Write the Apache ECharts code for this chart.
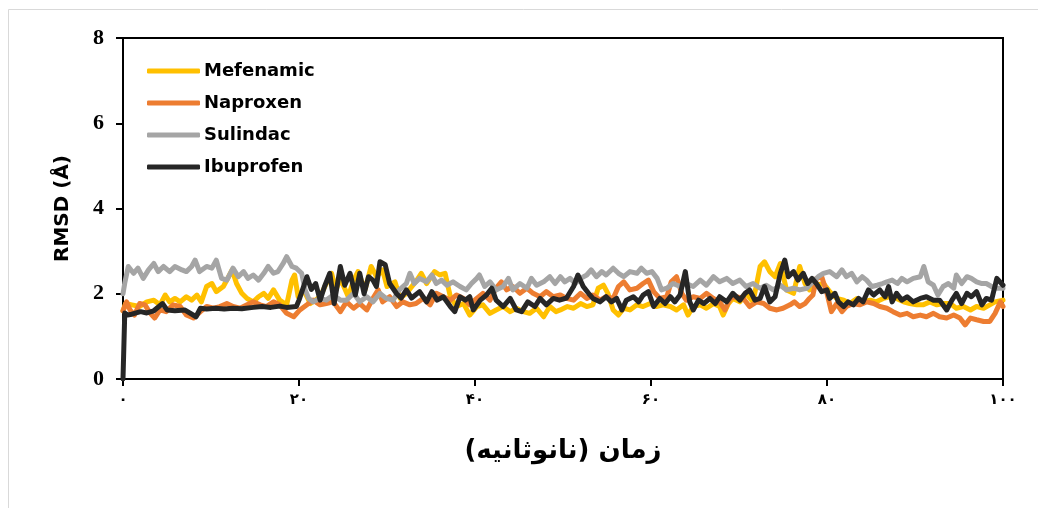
<!DOCTYPE html>
<html><head><meta charset="utf-8">
<script src="https://cdn.jsdelivr.net/npm/echarts@6/dist/echarts.min.js"></script>
<style>html,body{margin:0;padding:0;background:#fff}#c{width:1038px;height:508px}</style>
</head><body><div id="c"></div>
<script>
const SERIES_NAMES = ['Mefenamic','Naproxen','Sulindac','Ibuprofen'];
const X_TICK_LABELS = ['۰','۲۰','۴۰','۶۰','۸۰','۱۰۰'];
const Y_TICK_LABELS = ['0','2','4','6','8'];
const X_TITLE = '\u200Fزمان (نانوثانیه)\u200F';
const Y_TITLE = 'RMSD (Å)';

const MEFENAMIC = [[0,1.6],[0.3,1.77],[1,1.74],[1.9,1.7],[2.7,1.81],[3.5,1.85],[4.2,1.74],[4.8,1.97],[5.3,1.81],[5.9,1.89],[6.5,1.81],[7.2,1.93],[7.8,1.85],[8.4,1.97],[8.9,1.81],[9.5,2.17],[10.1,2.24],[10.6,2.05],[11.4,2.17],[12,2.4],[12.4,2.56],[12.9,2.24],[13.5,2.01],[14.1,1.89],[14.8,1.81],[15.4,1.93],[16,2.01],[16.5,1.89],[17.1,2.09],[17.8,1.85],[18.6,1.74],[19.2,2.32],[19.5,2.44],[19.9,1.93],[20.5,2.09],[21.3,1.77],[22.4,1.93],[23.1,2.24],[23.7,2.48],[24.2,2.09],[24.7,2.36],[25.6,1.93],[26.2,2.32],[26.7,2.52],[27.5,2.09],[28.2,2.64],[28.8,2.4],[29.5,2.56],[30,2.17],[30.9,2.28],[31.5,1.89],[32.2,2.01],[33.4,2.32],[33.9,2.48],[34.5,2.24],[35.4,2.52],[36,2.44],[36.6,2.48],[37.2,1.93],[37.9,1.7],[38.7,1.77],[39.4,1.5],[40.2,1.7],[40.9,1.74],[41.7,1.54],[42.4,1.62],[43.2,1.7],[44,1.58],[44.7,1.66],[45.5,1.58],[46.2,1.54],[47,1.66],[47.8,1.46],[48.5,1.7],[49.2,1.58],[49.7,1.62],[50.5,1.7],[51.2,1.66],[52,1.77],[52.7,1.7],[53.4,1.74],[54,2.13],[54.6,2.2],[55.1,2.01],[55.7,1.62],[56.3,1.5],[56.9,1.66],[57.6,1.62],[58.4,1.74],[59.1,1.7],[59.9,1.77],[60.6,1.7],[61.4,1.74],[62.2,1.7],[62.9,1.62],[63.7,1.74],[64.2,1.5],[64.8,1.7],[65.6,1.74],[66.3,1.66],[67.1,1.77],[67.8,1.7],[68.2,1.5],[68.8,1.77],[69.3,1.89],[70.1,1.81],[70.8,2.01],[71.6,1.81],[72.4,2.64],[72.9,2.75],[73.5,2.52],[74.1,2.4],[74.7,2.71],[75.4,2.09],[76.2,2.01],[76.9,2.64],[77.5,2.24],[78,2.09],[78.8,2.2],[79.6,2.24],[80.3,2.05],[81.1,1.89],[81.9,1.85],[82.6,1.77],[83.4,1.89],[84.1,1.81],[84.9,1.85],[85.6,1.81],[86.4,1.89],[87.1,1.93],[87.9,1.89],[88.7,1.81],[89.4,1.77],[90.2,1.74],[90.9,1.74],[91.7,1.81],[92.5,1.74],[93.2,1.77],[94,1.77],[94.7,1.66],[95.5,1.7],[96.3,1.62],[97,1.7],[97.8,1.66],[98.5,1.74],[99.1,1.81],[100,1.85]];

const NAPROXEN = [[0,1.6],[0.4,1.81],[0.8,1.62],[1.3,1.5],[1.9,1.77],[2.5,1.74],[3.1,1.54],[3.6,1.43],[4.2,1.62],[4.9,1.58],[5.7,1.74],[6.5,1.7],[7.2,1.5],[8,1.43],[8.8,1.58],[9.5,1.7],[10.3,1.66],[11,1.7],[11.8,1.77],[12.5,1.7],[13.3,1.66],[14.1,1.74],[14.8,1.81],[15.6,1.74],[16.3,1.7],[17.1,1.81],[17.8,1.74],[18.6,1.54],[19.4,1.46],[20.1,1.62],[20.9,1.74],[21.6,1.85],[22.4,1.74],[23.1,1.77],[23.9,1.81],[24.7,1.58],[25.4,1.81],[26.2,1.66],[26.9,1.77],[27.7,1.62],[28.4,1.89],[29,2.09],[29.5,1.81],[30.3,1.93],[31.1,1.7],[31.8,1.81],[32.6,1.74],[33.3,1.77],[34.1,1.89],[34.9,1.74],[35.6,2.01],[36.4,1.93],[37.2,1.85],[37.9,1.97],[38.7,1.89],[39.4,1.74],[40.2,1.89],[40.9,2.01],[41.7,1.85],[42.4,2.13],[43,2.28],[43.6,2.09],[44.3,2.17],[45.1,2.01],[45.9,2.13],[46.6,2.01],[47.4,1.93],[48.1,2.05],[48.9,1.93],[49.7,1.97],[50.4,1.89],[51.2,1.85],[52,2.01],[52.7,1.89],[53.4,1.97],[54.2,1.85],[54.9,1.93],[55.7,1.89],[56.3,2.17],[56.9,2.28],[57.6,2.09],[58.4,2.13],[59.1,2.24],[59.7,2.32],[60.3,2.05],[61,1.89],[61.8,1.93],[62.3,2.28],[62.9,2.4],[63.5,2.01],[64,1.85],[64.8,1.93],[65.6,1.89],[66.3,2.01],[67.1,1.89],[67.8,1.81],[68.4,1.62],[69,1.89],[69.7,1.93],[70.5,1.89],[71.2,1.7],[72,1.81],[72.8,1.77],[73.5,1.66],[74.3,1.62],[75,1.66],[75.8,1.74],[76.3,1.81],[76.9,1.7],[77.5,1.77],[78,1.89],[78.4,1.97],[78.8,2.36],[79.4,2.4],[80,2.01],[80.5,1.58],[81.1,1.77],[81.7,1.58],[82.2,1.7],[83,1.77],[83.7,1.74],[84.5,1.81],[85.3,1.77],[86,1.7],[86.8,1.66],[87.5,1.58],[88.3,1.5],[89.1,1.54],[89.8,1.46],[90.6,1.5],[91.3,1.46],[92.1,1.54],[92.8,1.46],[93.6,1.43],[94.4,1.5],[95.1,1.43],[95.7,1.27],[96.3,1.43],[97,1.39],[97.8,1.35],[98.5,1.35],[99.1,1.54],[99.7,1.81],[100,1.7]];

const SULINDAC = [[0,2.0],[0.2,2.25],[0.6,2.64],[1.2,2.48],[1.7,2.6],[2.3,2.36],[2.9,2.56],[3.5,2.71],[4,2.52],[4.6,2.64],[5.3,2.52],[5.9,2.64],[6.7,2.56],[7.2,2.52],[7.8,2.64],[8.2,2.79],[8.7,2.52],[9.5,2.64],[10.1,2.6],[10.6,2.79],[11.2,2.36],[11.8,2.32],[12.5,2.6],[13.1,2.4],[13.7,2.52],[14.2,2.36],[14.8,2.44],[15.4,2.32],[16,2.48],[16.5,2.64],[17.1,2.48],[17.6,2.52],[18.2,2.71],[18.6,2.87],[19.2,2.64],[19.7,2.6],[20.3,2.48],[20.7,2.09],[21.1,1.89],[21.6,1.81],[22.4,1.89],[23.1,1.85],[23.9,1.97],[24.7,1.85],[25.4,1.85],[26.2,2.01],[26.9,1.81],[27.7,1.93],[28.4,1.81],[29.2,2.01],[29.9,1.89],[30.7,1.85],[31.4,2.09],[32.2,2.24],[32.6,2.48],[33.1,2.24],[33.7,2.36],[34.5,2.28],[35.1,2.44],[35.6,2.24],[36.2,2.32],[36.8,2.2],[37.5,2.28],[38.3,2.17],[39,2.09],[39.6,2.24],[40.2,2.36],[40.5,2.44],[41.1,2.17],[41.7,2.28],[42.4,2.09],[43.2,2.17],[43.8,2.36],[44.3,2.09],[45.1,2.24],[45.9,2.13],[46.4,2.36],[47,2.2],[47.8,2.28],[48.5,2.4],[49.1,2.24],[49.7,2.4],[50.2,2.28],[50.8,2.36],[51.4,2.24],[52,2.36],[52.7,2.44],[53.2,2.56],[53.8,2.4],[54.4,2.52],[54.9,2.44],[55.7,2.6],[56.3,2.48],[56.9,2.4],[57.6,2.52],[58.4,2.48],[58.9,2.6],[59.5,2.48],[60.1,2.52],[60.7,2.36],[61.2,2.09],[61.8,2.13],[62.5,2.24],[63.3,2.17],[64,2.24],[64.8,2.17],[65.6,2.32],[66.3,2.2],[67.1,2.4],[67.8,2.28],[68.6,2.36],[69.3,2.24],[70.1,2.32],[70.8,2.17],[71.6,2.24],[72.4,2.13],[73.1,2.2],[73.9,2.09],[74.7,2.2],[75.4,2.09],[76.2,2.13],[76.9,2.09],[77.7,2.13],[78.4,2.28],[79,2.4],[79.6,2.48],[80.3,2.52],[81.1,2.4],[81.7,2.56],[82.2,2.4],[82.8,2.48],[83.4,2.28],[84,2.4],[84.5,2.32],[85.1,2.17],[85.7,2.2],[86.3,2.24],[86.8,2.28],[87.4,2.32],[88,2.24],[88.5,2.36],[89.1,2.28],[89.8,2.36],[90.6,2.4],[91,2.64],[91.5,2.28],[92.1,2.2],[92.6,1.97],[93.2,2.17],[93.8,2.24],[94.4,2.13],[94.7,2.44],[95.3,2.24],[95.9,2.4],[96.4,2.36],[97,2.28],[97.6,2.24],[98.1,2.24],[98.7,2.17],[99.3,2.13],[100,2.13]];

const IBUPROFEN = [[0,0],[0.2,1.55],[0.5,1.5],[1,1.52],[1.5,1.55],[2,1.58],[2.7,1.55],[3.5,1.6],[4.5,1.77],[5,1.62],[5.9,1.6],[7,1.62],[8.3,1.46],[8.8,1.66],[9.5,1.64],[10.5,1.66],[11.5,1.64],[12.5,1.66],[13.5,1.65],[14.8,1.68],[15.8,1.7],[16.8,1.68],[17.8,1.71],[18.6,1.68],[19.7,1.7],[20,1.85],[20.9,2.4],[21.4,2.1],[21.9,2.24],[22.4,1.85],[22.9,2.17],[23.5,2.48],[24,1.77],[24.7,2.64],[25.2,2.2],[25.8,2.48],[26.4,1.97],[26.9,2.48],[27.4,2.0],[27.9,2.4],[28.4,2.32],[28.8,2.17],[29.2,2.75],[29.8,2.68],[30.3,2.24],[31.1,2.0],[31.6,1.9],[32.2,2.09],[32.8,1.9],[33.7,2.05],[34.5,1.81],[35.1,2.05],[35.7,1.85],[36.4,1.93],[37.2,1.7],[37.7,1.58],[38.3,1.93],[38.9,1.85],[39.4,1.93],[39.8,1.62],[40.6,1.85],[41.3,1.97],[41.9,2.13],[42.4,1.85],[43.2,1.7],[44,1.89],[44.7,1.62],[45.3,1.58],[46,1.81],[46.8,1.7],[47.4,1.89],[48.1,1.74],[48.9,1.89],[49.6,1.85],[50.4,1.9],[51.2,2.17],[51.7,2.44],[52.3,2.17],[52.9,2.01],[53.4,1.89],[54.2,1.81],[54.9,1.93],[55.5,1.81],[56.1,1.89],[56.7,1.62],[57.2,1.85],[58,1.93],[58.6,1.81],[59.1,1.97],[59.7,2.05],[60.3,1.7],[61,1.89],[61.6,1.77],[62.2,1.93],[62.7,1.81],[63.3,1.97],[63.9,2.52],[64.4,1.81],[64.8,1.62],[65.4,1.85],[66,1.77],[66.7,1.89],[67.3,1.77],[67.8,1.93],[68.6,1.81],[69.3,2.01],[70.1,1.85],[70.7,2.01],[71.2,2.09],[71.8,1.85],[72.4,1.89],[72.9,2.17],[73.5,1.81],[74.1,1.93],[74.7,2.48],[75.2,2.79],[75.6,2.4],[76.2,2.52],[76.7,2.32],[77.3,2.48],[77.8,2.24],[78.3,2.36],[78.8,2.24],[79.4,2.05],[80,2.09],[80.3,1.89],[80.9,2.01],[81.3,1.81],[81.9,1.7],[82.4,1.81],[83,1.74],[83.6,1.89],[84.1,1.81],[84.7,2.09],[85.3,1.97],[86,2.09],[86.6,1.93],[87,2.17],[87.4,1.81],[87.9,2.01],[88.5,1.85],[89.1,1.93],[89.8,1.81],[90.6,1.89],[91.3,1.93],[92.1,1.85],[92.8,1.85],[93.6,1.62],[94.2,1.85],[94.7,2.01],[95.3,1.77],[95.9,2.01],[96.4,1.93],[97,2.05],[97.6,1.74],[98.1,1.89],[98.7,1.85],[99.3,2.36],[100,2.2]];

const COLORS = ['#FFC000','#ED7D31','#A5A5A5','#262626'];
const DATA = [MEFENAMIC, NAPROXEN, SULINDAC, IBUPROFEN];

const chart = echarts.init(document.getElementById('c'), null, {renderer:'canvas'});
chart.setOption({
  animation:false,
  backgroundColor:'#ffffff',
  color: COLORS,
  graphic:[{type:'rect', shape:{x:8.5,y:9.5,width:1200,height:700}, style:{fill:'none',stroke:'#d9d9d9',lineWidth:1}, silent:true, z:-1}],
  grid:{left:123,right:35,top:38,bottom:129,show:true,borderColor:'#000',borderWidth:2,backgroundColor:'transparent'},
  legend:{
    left:142, top:56, orient:'vertical', itemWidth:53, itemHeight:5, itemGap:12,
    icon:'roundRect',
    data: SERIES_NAMES,
    textStyle:{fontFamily:'DejaVu Sans',fontWeight:'bold',fontSize:18,lineHeight:20,color:'#000',padding:[0,0,0,-1]}
  },
  xAxis:{
    type:'value', min:0, max:100, interval:20,
    axisLine:{show:true,lineStyle:{color:'#000',width:2}},
    axisTick:{show:true,inside:false,length:7,lineStyle:{color:'#000',width:2}},
    splitLine:{show:false},
    axisLabel:{margin:14,fontFamily:'DejaVu Sans',fontWeight:'bold',fontSize:15,color:'#000',
      formatter:function(v){return X_TICK_LABELS[Math.round(v/20)];}},
    name:X_TITLE, nameLocation:'middle', nameGap:59,
    nameTextStyle:{fontFamily:'DejaVu Sans',fontWeight:'bold',fontSize:26,color:'#000'}
  },
  yAxis:{
    type:'value', min:0, max:8, interval:2,
    axisLine:{show:true,lineStyle:{color:'#000',width:2}},
    axisTick:{show:true,inside:false,length:7,lineStyle:{color:'#000',width:2}},
    splitLine:{show:false},
    axisLabel:{margin:19,fontFamily:'Liberation Serif',fontWeight:'bold',fontSize:22,color:'#000',
      formatter:function(v){return Y_TICK_LABELS[Math.round(v/2)];}},
    name:Y_TITLE, nameLocation:'middle', nameGap:50, nameRotate:90,
    nameTextStyle:{fontFamily:'DejaVu Sans',fontWeight:'bold',fontSize:20,color:'#000'}
  },
  series: SERIES_NAMES.map(function(n,i){
    return {name:n,type:'line',data:DATA[i],showSymbol:false,symbol:'none',
      lineStyle:{width:5,color:COLORS[i],cap:'round',join:'round'},
      itemStyle:{color:COLORS[i]}, z:2+i};
  })
});
</script></body></html>
